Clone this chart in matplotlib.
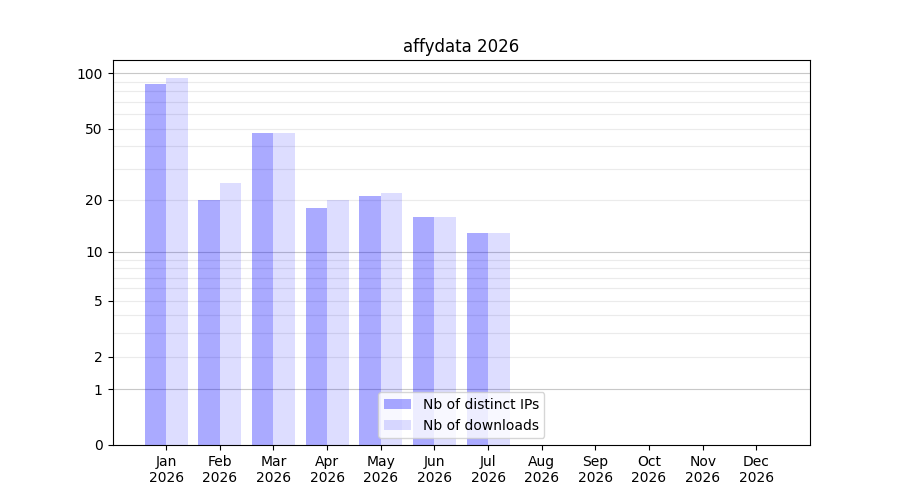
import numpy as np
import matplotlib

matplotlib.use("Agg")
import matplotlib.pyplot as plt

months = ["Jan", "Feb", "Mar", "Apr", "May", "Jun",
          "Jul", "Aug", "Sep", "Oct", "Nov", "Dec"]
year = "2026"
distinct_ips = [88, 20, 47, 18, 21, 16, 13, 0, 0, 0, 0, 0]
downloads = [94, 25, 47, 20, 22, 16, 13, 0, 0, 0, 0, 0]
y_ticks = [0, 1, 2, 5, 10, 20, 50, 100]
major_grid = [1, 10, 100]
minor_grid = [2, 3, 4, 5, 6, 7, 8, 9, 20, 30, 40, 50, 60, 70, 80, 90]


def fwd(v):
    return np.log10(1 + np.clip(v, 0, None))


def inv(v):
    return 10 ** v - 1


fig, ax = plt.subplots(figsize=(9, 5), dpi=100)
x = np.arange(len(months))
w = 0.4
ax.bar(x - w / 2, distinct_ips, w, color=(0, 0, 1, 0.333),
       label="Nb of distinct IPs", zorder=2)
ax.bar(x + w / 2, downloads, w, color=(0, 0, 1, 0.135),
       label="Nb of downloads", zorder=2)

ax.set_yscale("function", functions=(fwd, inv))
ax.set_ylim(0, max(downloads + distinct_ips) * 1.26)
ax.set_yticks(y_ticks)
ax.set_yticklabels([str(t) for t in y_ticks])
ax.yaxis.set_minor_locator(matplotlib.ticker.NullLocator())
for g in minor_grid:
    ax.axhline(g, color="#ebebeb", linewidth=0.8, zorder=1)
for g in major_grid:
    ax.axhline(g, color="#c8c8c8", linewidth=0.8, zorder=1)

ax.set_xticks(x)
ax.set_xticklabels([f"{m}\n{year}" for m in months])
ax.set_xlim(-1, len(months))
ax.set_title(f"affydata {year}")
ax.legend(loc="lower center")

fig.savefig("out.png")
